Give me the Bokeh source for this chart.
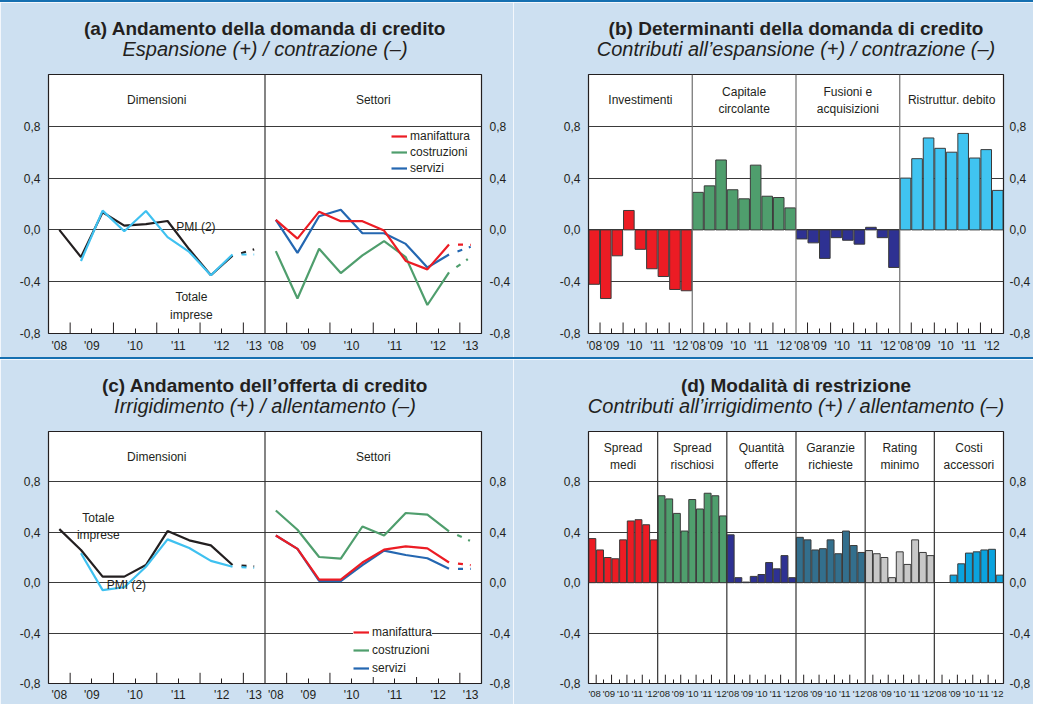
from bokeh.plotting import figure
from bokeh.models import (Range1d, LinearAxis, FixedTicker, Grid, Span, Legend, LegendItem,
                          Title, Div, CustomJSTickFormatter)
from bokeh.layouts import column, row
from bokeh.embed import file_html
from bokeh.resources import INLINE
from bokeh.core.properties import value

FONT = "Liberation Sans"
BG = "#cde0f1"
INK = "#231f20"
GRID = "#3a3a3a"
RULE = "#1670b1"

# ---------------- data ----------------
half_years = ["2008-II", "2009-I", "2009-II", "2010-I", "2010-II",
              "2011-I", "2011-II", "2012-I", "2012-II"]
forecast_period = "2013-I"
y_ticks = [-0.8, -0.4, 0.0, 0.4, 0.8]

# (a) demand for credit
a_groups = ["Dimensioni", "Settori"]
a_totale = [0.00, -0.21, 0.136, 0.033, 0.044, 0.069, -0.15, -0.35, -0.20]
a_totale_prev = -0.15
a_pmi = [None, -0.24, 0.149, -0.01, 0.146, -0.056, -0.17, -0.35, -0.19]
a_pmi_prev = -0.19
a_manif = [0.077, -0.067, 0.141, 0.067, 0.067, -0.005, -0.24, -0.305, -0.113]
a_manif_prev = -0.115
a_costr = [-0.164, -0.53, -0.146, -0.333, -0.197, -0.087, -0.21, -0.58, -0.328]
a_costr_prev = -0.21
a_serv = [0.077, -0.177, 0.105, 0.156, -0.026, -0.026, -0.108, -0.29, -0.19]
a_serv_prev = -0.13

# (b) determinants of demand
b_groups = ["Investimenti", "Capitale\ncircolante", "Fusioni e\nacquisizioni", "Ristruttur. debito"]
b_invest = [-0.42, -0.53, -0.20, 0.15, -0.15, -0.30, -0.36, -0.46, -0.47]
b_capitale = [0.29, 0.34, 0.54, 0.31, 0.24, 0.50, 0.26, 0.25, 0.17]
b_fusioni = [-0.07, -0.10, -0.22, -0.06, -0.08, -0.11, 0.02, -0.06, -0.29]
b_ristrutt = [0.40, 0.55, 0.71, 0.63, 0.60, 0.745, 0.555, 0.62, 0.305]
b_colors = ["#ec1c24", "#4f9e6d", "#2e3192", "#40c4f1"]

# (c) supply of credit
c_groups = ["Dimensioni", "Settori"]
c_totale = [0.425, 0.26, 0.048, 0.048, 0.14, 0.41, 0.336, 0.296, 0.14]
c_totale_prev = 0.13
c_pmi = [None, 0.234, -0.059, -0.036, 0.127, 0.344, 0.275, 0.173, 0.127]
c_pmi_prev = 0.117
c_manif = [0.375, 0.268, 0.025, 0.025, 0.16, 0.262, 0.288, 0.273, 0.16]
c_manif_prev = 0.14
c_costr = [0.573, 0.42, 0.204, 0.191, 0.446, 0.375, 0.553, 0.54, 0.408]
c_costr_prev = 0.33
c_serv = [0.375, 0.268, 0.015, 0.013, 0.14, 0.255, 0.22, 0.194, 0.11]
c_serv_prev = 0.11

# (d) restriction modalities
d_groups = ["Spread\nmedi", "Spread\nrischiosi", "Quantità\nofferte",
            "Garanzie\nrichieste", "Rating\nminimo", "Costi\naccessori"]
d_spread_medi = [0.35, 0.26, 0.20, 0.19, 0.34, 0.49, 0.50, 0.46, 0.34]
d_spread_risch = [0.69, 0.665, 0.55, 0.41, 0.66, 0.585, 0.71, 0.69, 0.53]
d_quantita = [0.38, 0.04, 0.005, 0.05, 0.065, 0.16, 0.11, 0.215, 0.04]
d_garanzie = [0.36, 0.34, 0.26, 0.27, 0.34, 0.23, 0.41, 0.295, 0.24]
d_rating = [0.255, 0.23, 0.20, 0.04, 0.245, 0.145, 0.34, 0.24, 0.215]
d_costi = [None, None, 0.06, 0.15, 0.235, 0.245, 0.26, 0.265, 0.06]
d_colors = ["#ec1c24", "#4f9e6d", "#2e3192", "#336f8d", "#c8c8c8", "#0ba3de"]

COL_BLACK = "#231f20"
COL_CYAN = "#3fc1f0"
COL_RED = "#ec1c24"
COL_GREEN = "#4f9e6d"
COL_BLUE = "#2467b1"


# ---------------- helpers ----------------
def year_layout(periods):
    yrs = [s.split("-")[0] for s in periods]
    centres, labels, tall, short = [], [], [], []
    i = 0
    while i < len(yrs):
        j = i
        while j < len(yrs) and yrs[j] == yrs[i]:
            j += 1
        centres.append((i + j) / 2)
        labels.append("'" + yrs[i][2:])
        if i > 0:
            tall.append(i)
        short.extend(range(i + 1, j))
        i = j
    return centres, labels, tall, short


def nan(v):
    return float("nan") if v is None else v


def base_fig(width, height, left, right, top, bottom, nslots, title, subtitle, rstand):
    p = figure(width=width, height=height, x_range=Range1d(0, nslots), y_range=Range1d(-0.8, 1.2),
               x_axis_type=None, y_axis_type=None, output_backend="svg", toolbar_location=None,
               title=None,
               min_border_left=left, min_border_right=right, min_border_top=top, min_border_bottom=bottom,
               border_fill_color=BG, background_fill_color="white",
               outline_line_color=INK, outline_line_width=1.2)
    p.add_layout(Title(text=subtitle, align="center", text_font=FONT, text_font_size="20px",
                       text_font_style="italic", text_color=INK, standoff=30), "above")
    p.add_layout(Title(text=title, align="center", text_font=FONT, text_font_size="19px",
                       text_font_style="bold", text_color=INK, standoff=-36), "above")
    yt = FixedTicker(ticks=y_ticks)
    fmt = CustomJSTickFormatter(code="return tick.toFixed(1).replace('.', ',');")
    for side, stand in (("left", 8), ("right", rstand)):
        ax = LinearAxis(ticker=yt, formatter=fmt, axis_line_color=None,
                        major_tick_line_color=None, minor_tick_line_color=None,
                        major_tick_in=0, major_tick_out=0, minor_tick_in=0, minor_tick_out=0,
                        major_label_standoff=stand, major_label_text_font=FONT,
                        major_label_text_font_size="12px", major_label_text_color=INK)
        p.add_layout(ax, side)
    p.add_layout(Grid(dimension=1, ticker=yt, grid_line_color=GRID, grid_line_width=1))
    return p


def x_axis(p, periods, n_groups, per, tick_len, minor_len, label_size, standoff, spread=None):
    centres, labels, tall, short = year_layout(periods)
    if spread is not None:
        mid = per / 2
        k = len(centres)
        centres = [mid + (i - (k - 1) / 2) * spread for i in range(k)]
    pos, labs, tl, sh = [], [], [], []
    for g in range(n_groups):
        off = g * per
        pos += [off + c for c in centres]
        labs += labels
        tl += [off + t for t in tall]
        sh += [off + s for s in short]
    fmt = CustomJSTickFormatter(args=dict(pos=pos, labs=labs), code="""
        for (let i = 0; i < pos.length; i++) {
            if (Math.abs(pos[i] - tick) < 1e-6) { return labs[i]; }
        }
        return "";
    """)
    xax = LinearAxis(ticker=FixedTicker(ticks=pos, minor_ticks=sh), formatter=fmt,
                     axis_line_color=None, major_tick_line_color=None,
                     major_tick_in=0, major_tick_out=0,
                     minor_tick_line_color=INK, minor_tick_in=minor_len, minor_tick_out=0,
                     major_label_standoff=standoff, major_label_text_font=FONT,
                     major_label_text_font_size=label_size, major_label_text_color=INK)
    p.add_layout(xax, "below")
    p.segment(x0=tl, y0=-0.8, x1=tl, y1=-0.8 + tick_len, line_color=INK, line_width=1)


def group_headers(p, groups, per, color):
    xs = [g * per + per / 2 for g in range(len(groups))]
    p.text(x=xs, y=[1.0] * len(groups), text=groups, text_align="center", text_baseline="middle",
           text_font=value(FONT), text_font_size="12px", text_color=INK, text_line_height=1.25)
    for g in range(1, len(groups)):
        p.add_layout(Span(location=g * per, dimension="height", line_color=color, line_width=1.2))


def series_line(p, group, vals, prev, color, width=2.2):
    xs = [group * 10 + i + 0.5 for i in range(len(vals))]
    r = p.line(xs, [nan(v) for v in vals], line_color=color, line_width=width)
    p.line([xs[-1], xs[-1] + 1], [vals[-1], prev], line_color=color, line_width=width,
           line_dash="0 9 5 7 2 30")
    return r


def line_panel(p, sets):
    renderers = {}
    for group, vals, prev, color, name in sets:
        renderers[name] = series_line(p, group, vals, prev, color)
    return renderers


def legend(items, loc, pad, item_h, alpha):
    return Legend(items=items, location=loc, padding=pad, margin=0, spacing=0,
                  glyph_width=16, glyph_height=item_h, label_height=item_h, label_standoff=3,
                  label_text_font=FONT, label_text_font_size="12px", label_text_color=INK,
                  background_fill_color="white", background_fill_alpha=alpha,
                  border_line_color=None)


# ---------------- sizes ----------------
W_L, W_R = 513, 520
H_T, H_B = 355, 345
TOP_T, BOT_T = 72, 24
TOP_B, BOT_B = 72, 18
L_LEFT, L_RIGHT = 48, 29
R_LEFT, R_RIGHT = 75, 27

# ---------------- (a) ----------------
pa = base_fig(W_L, H_T, L_LEFT, L_RIGHT, TOP_T, BOT_T, 20, "(a) Andamento della domanda di credito",
              "Espansione (+) / contrazione (–)", 8)
group_headers(pa, a_groups, 10, "#333333")
ra = line_panel(pa, [
    (0, a_totale, a_totale_prev, COL_BLACK, "tot"),
    (0, a_pmi, a_pmi_prev, COL_CYAN, "pmi"),
    (1, a_costr, a_costr_prev, COL_GREEN, "costruzioni"),
    (1, a_serv, a_serv_prev, COL_BLUE, "servizi"),
    (1, a_manif, a_manif_prev, COL_RED, "manifattura"),
])
x_axis(pa, half_years + [forecast_period], 2, 10, 0.085, 5, "12px", 5)
pa.text(x=[5.9], y=[0.02], text=["PMI (2)"], text_align="left", text_baseline="middle",
        text_font=value(FONT), text_font_size="12px", text_color=INK)
pa.text(x=[6.6], y=[-0.585], text=["Totale\nimprese"], text_align="center", text_baseline="middle",
        text_font=value(FONT), text_font_size="12px", text_color=INK, text_line_height=1.3)
pa.add_layout(legend([LegendItem(label=n, renderers=[ra[n]]) for n in ["manifattura", "costruzioni", "servizi"]],
                     (343, 157), 0, 16, 0))

# ---------------- (b) ----------------
pb = base_fig(W_R, H_T, R_LEFT, R_RIGHT, TOP_T, BOT_T, 36, "(b) Determinanti della domanda di credito",
              "Contributi all’espansione (+) / contrazione (–)", 6)
for g, (vals, col) in enumerate(zip([b_invest, b_capitale, b_fusioni, b_ristrutt], b_colors)):
    xs = [g * 9 + i + 0.5 for i in range(len(vals))]
    pb.vbar(x=xs, top=[nan(v) for v in vals], bottom=0, width=0.92, fill_color=col,
            line_color="#3a3a3a", line_width=1)
group_headers(pb, b_groups, 9, "#707070")
x_axis(pb, half_years, 4, 9, 0.085, 5, "12px", 5)

# ---------------- (c) ----------------
pc = base_fig(W_L, H_B, L_LEFT, L_RIGHT, TOP_B, BOT_B, 20, "(c) Andamento dell’offerta di credito",
              "Irrigidimento (+) / allentamento (–)", 8)
group_headers(pc, c_groups, 10, "#333333")
rc = line_panel(pc, [
    (0, c_totale, c_totale_prev, COL_BLACK, "tot"),
    (0, c_pmi, c_pmi_prev, COL_CYAN, "pmi"),
    (1, c_costr, c_costr_prev, COL_GREEN, "costruzioni"),
    (1, c_serv, c_serv_prev, COL_BLUE, "servizi"),
    (1, c_manif, c_manif_prev, COL_RED, "manifattura"),
])
x_axis(pc, half_years + [forecast_period], 2, 10, 0.085, 5, "12px", 4)
pc.text(x=[3.6], y=[-0.015], text=["PMI (2)"], text_align="center", text_baseline="middle",
        text_font=value(FONT), text_font_size="12px", text_color=INK)
pc.text(x=[2.3], y=[0.446], text=["Totale\nimprese"], text_align="center", text_baseline="middle",
        text_font=value(FONT), text_font_size="12px", text_color=INK, text_line_height=1.2)
pc.add_layout(legend([LegendItem(label=n, renderers=[rc[n]]) for n in ["manifattura", "costruzioni", "servizi"]],
                     (305, 6), 8, 18, 1))

# ---------------- (d) ----------------
pd_ = base_fig(W_R, H_B, R_LEFT, R_RIGHT, TOP_B, BOT_B, 54, "(d) Modalità di restrizione",
               "Contributi all’irrigidimento (+) / allentamento (–)", 6)
d_series = [d_spread_medi, d_spread_risch, d_quantita, d_garanzie, d_rating, d_costi]
for g, (vals, col) in enumerate(zip(d_series, d_colors)):
    xs = [g * 9 + i + 0.5 for i in range(len(vals))]
    pd_.vbar(x=xs, top=[nan(v) for v in vals], bottom=0, width=0.9, fill_color=col,
             line_color="#3a3a3a", line_width=1)
group_headers(pd_, d_groups, 9, "#333333")
x_axis(pd_, half_years, 6, 9, 0.07, 4, "9.5px", 4, spread=1.85)


def rule():
    return Div(text="", width=W_L + W_R, height=2, margin=0,
               styles={"background-color": RULE})


layout = column(rule(), row(pa, pb), rule(), row(pc, pd_))

open("out.html", "w").write(file_html(layout, INLINE))
